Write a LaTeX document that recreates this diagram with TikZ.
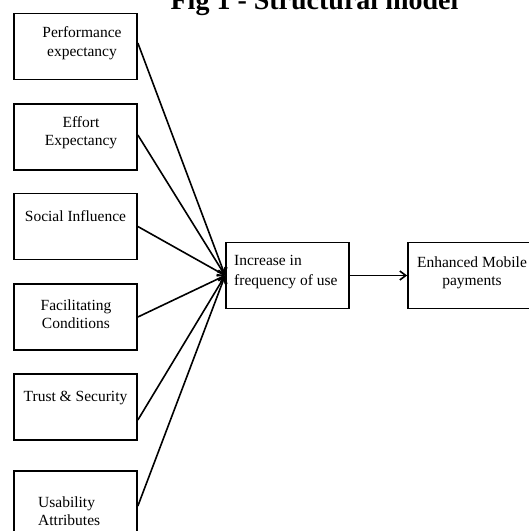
\documentclass[tikz,border=0pt]{standalone}
\usepackage{fontspec}
\setmainfont{Liberation Serif}
\usetikzlibrary{arrows.meta}

\begin{document}
\begin{tikzpicture}[x=1pt,y=-1pt]
    \tikzset{box/.style  = {draw,
        line width     = 1.7pt,
        minimum width  = 123pt,
        minimum height = 66pt,
        inner sep      = 0pt
        },
        txt/.style  = {align=center, inner sep=0pt, font=\fontsize{15.5}{18.5}\selectfont},
        link/.style = {line width=1.6pt, -{Straight Barb[length=6pt,width=9pt]}}}

    \def\Lx{75.5};
    \def\My{275.5};

    \useasboundingbox (0,0) rectangle (529,531);

    % Title (cut at the top of the page).
    \node[anchor=base, inner sep=0pt, font=\fontsize{28}{32}\selectfont\bfseries] (title) at (314.5,9) {Fig 1 - Structural model};

    % Draw the six determinants (base = last line).
    \node[box] (pe) at (\Lx,46.5) {};
    \node[txt, anchor=base] (peT) at ([xshift=6.5pt,yshift=-43.5pt]pe.north) {Performance\\expectancy};

    \node[box] (ee) at (\Lx,137) {};
    \node[txt, anchor=base] (eeT) at ([xshift=5.5pt,yshift=-42.5pt]ee.north) {Effort\\Expectancy};

    \node[box] (si) at (\Lx,226.5) {};
    \node[txt, anchor=base] (siT) at ([yshift=-29pt]si.north) {Social Influence};

    \node[box] (fc) at (\Lx,317) {};
    \node[txt, anchor=base] (fcT) at ([xshift=0.5pt,yshift=-45.5pt]fc.north) {Facilitating\\Conditions};

    \node[box] (ts) at (\Lx,407) {};
    \node[txt, anchor=base] (tsT) at ([yshift=-28pt]ts.north) {Trust \& Security};

    \node[box] (ua) at (\Lx,504) {};
    \node[txt, align=left, anchor=base west] (uaT) at ([xshift=-37.5pt,yshift=-55.5pt]ua.north) {Usability\\Attributes};

    % Draw the outcome chain.
    \node[box] (inc) at (287.5,\My) {};
    \node[txt, align=left, anchor=base west, font=\fontsize{15.5}{20}\selectfont] (incT) at ([xshift=-53.5pt,yshift=-44pt]inc.north) {Increase in\\frequency of use};

    \node[box] (emp) at (469.5,\My) {};
    \node[txt, anchor=base] (empT) at ([xshift=2.5pt,yshift=-44pt]emp.north) {Enhanced Mobile\\payments};

    % Draw the connectors.
    \draw[link] ([yshift=3.5pt]pe.east) -- (inc.west);
    \draw[link] ([yshift=2pt]ee.east) -- (inc.west);
    \draw[link] (si.east) -- (inc.west);
    \draw[link] (fc.east) -- (inc.west);
    \draw[link] ([yshift=-13pt]ts.east) -- (inc.west);
    \draw[link] ([yshift=-2pt]ua.east) -- (inc.west);
    \draw[link] (inc.east) -- (emp.west);
  \end{tikzpicture}
\end{document}
